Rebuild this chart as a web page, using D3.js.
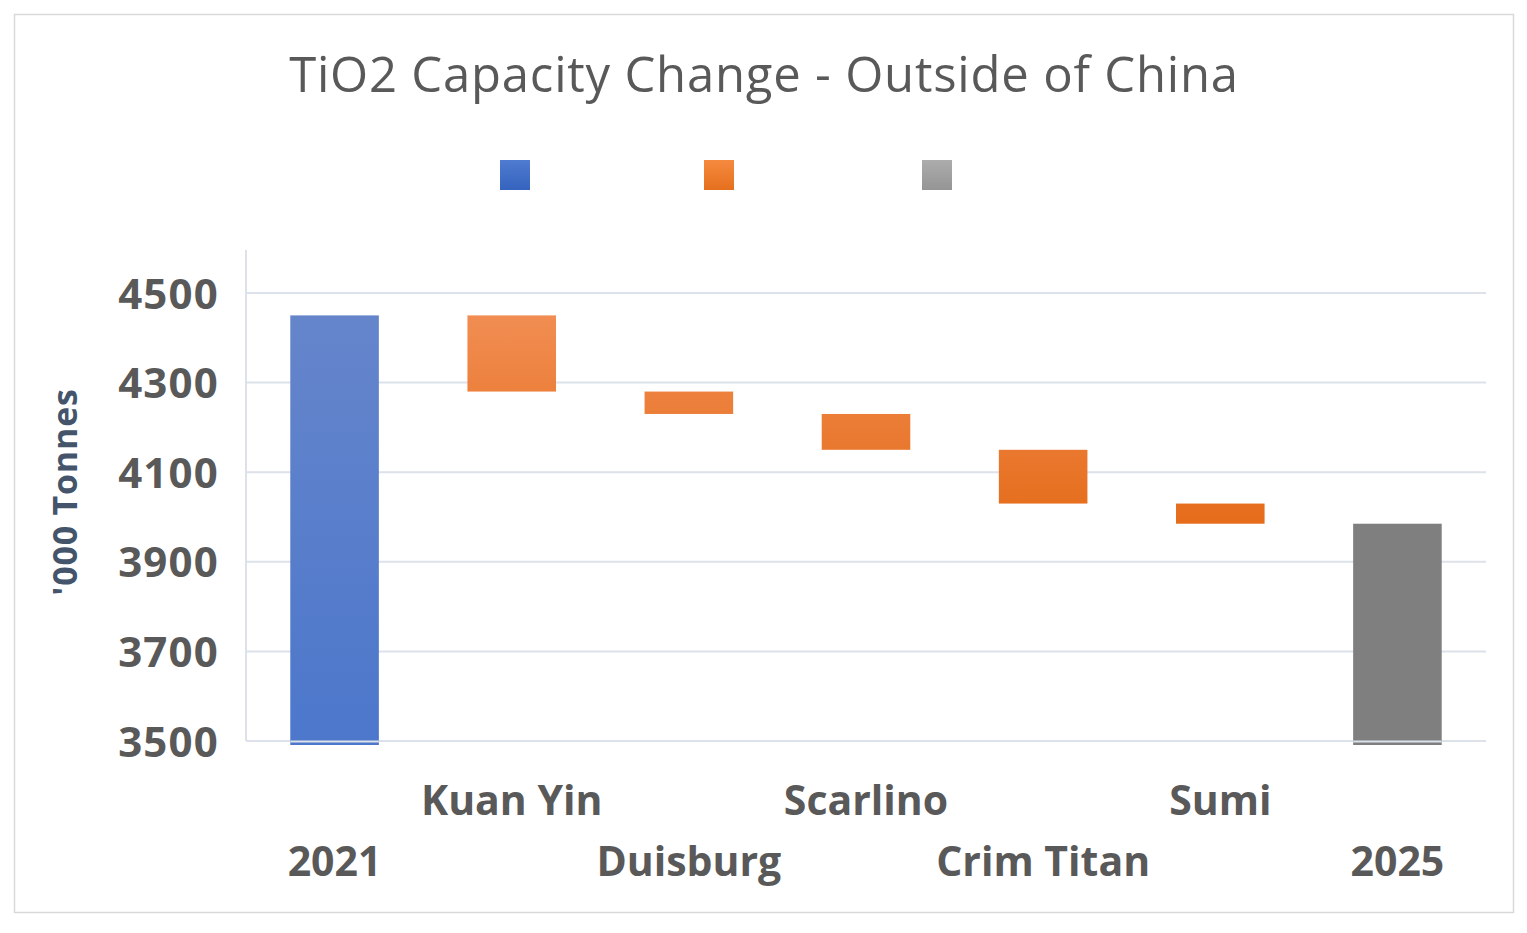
<!DOCTYPE html>
<html><head><meta charset="utf-8">
<script src="https://cdn.jsdelivr.net/npm/d3@7"></script>
<style>body{margin:0;background:#fff}svg{display:block}</style>
</head><body>
<svg id="c" width="1527" height="933"></svg>
<script>
const categories = ["2021","Kuan Yin","Duisburg","Scarlino","Crim Titan","Sumi","2025"];
const starts = [3500,4450,4280,4230,4150,4030,3500];
const ends   = [4450,4280,4230,4150,4030,3985,3985];
const kinds  = ["total","change","change","change","change","change","end"];
const yTicks = [3500,3700,3900,4100,4300,4500];
const legendKinds = ["total","change","end"];

const svg = d3.select("#c");
const defs = svg.append("defs");
function grad(id, c1, c2, y1, y2){
  const g = defs.append("linearGradient").attr("id",id).attr("gradientUnits","userSpaceOnUse")
    .attr("x1",0).attr("x2",0).attr("y1",y1).attr("y2",y2);
  g.append("stop").attr("offset","0%").attr("stop-color",c1);
  g.append("stop").attr("offset","100%").attr("stop-color",c2);
}
grad("gBlue","#6585CB","#4C77CB",316,745);
grad("gOrange","#F18D52","#E56C1A",316,525);
grad("gLegB","#4F7BD0","#3563BE",160,190);
grad("gLegO","#F58A3F","#E5701E",160,190);
grad("gLegG","#ACACAC","#959595",160,190);

svg.append("rect").attr("x",14.5).attr("y",14.5).attr("width",1499).attr("height",898)
  .attr("fill","#fff").attr("stroke","#D9D9D9").attr("stroke-width",1.5);

const x = d3.scaleBand().domain(categories).range([246,1486]).paddingInner(0.5).paddingOuter(0.25);
const y = d3.scaleLinear().domain([3500,4500]).range([741,293]);

svg.append("g").selectAll("line").data(yTicks).join("line")
  .attr("x1",246).attr("x2",1486).attr("y1",d=>y(d)).attr("y2",d=>y(d))
  .attr("stroke","#DCE1EA").attr("stroke-width",2);
svg.append("line").attr("x1",246).attr("x2",246).attr("y1",250).attr("y2",741)
  .attr("stroke","#DCE1EA").attr("stroke-width",2);

const fills = {total:"url(#gBlue)", change:"url(#gOrange)", end:"#7F7F7F"};
const data = categories.map((c,i)=>({c, s:starts[i], e:ends[i], k:kinds[i]}));
svg.append("g").selectAll("rect").data(data).join("rect")
  .attr("x",d=>x(d.c)).attr("width",x.bandwidth())
  .attr("y",d=>y(Math.max(d.s,d.e)))
  .attr("height",d=>y(Math.min(d.s,d.e))-y(Math.max(d.s,d.e)) + (d.k==="change"?0:4))
  .attr("fill",d=>fills[d.k]);
svg.append("g").selectAll("line").data(data.filter(d=>d.k!=="change")).join("line")
  .attr("x1",d=>x(d.c)).attr("x2",d=>x(d.c)+x.bandwidth())
  .attr("y1",y(3500)+0.5).attr("y2",y(3500)+0.5).attr("stroke","#DCE1EA").attr("stroke-width",2);

const yAxis = d3.axisLeft(y).tickValues(yTicks).tickFormat(d3.format("d")).tickSize(0).tickPadding(0);
const ga = svg.append("g").attr("transform","translate(219,0)").call(yAxis);
ga.select(".domain").remove();
ga.selectAll("text").attr("font-family","Open Sans").attr("font-weight","bold")
  .attr("font-size",42).attr("fill","#595959").attr("dy","0.36em").attr("letter-spacing",1.2);

svg.append("g").selectAll("text").data(categories).join("text")
  .attr("x",d=>x(d)+x.bandwidth()/2).attr("y",(d,i)=> i%2===1 ? 815 : 876)
  .attr("text-anchor","middle").attr("font-family","Open Sans").attr("font-weight","bold")
  .attr("font-size",41).attr("fill","#595959").attr("letter-spacing",0).text(d=>d);

svg.append("text").attr("transform","translate(77,492) rotate(-90)")
  .attr("text-anchor","middle").attr("font-family","Open Sans").attr("font-weight","bold")
  .attr("font-size",34).attr("fill","#44546A").attr("letter-spacing",0.8).text("'000 Tonnes");

svg.append("text").attr("x",764).attr("y",92).attr("text-anchor","middle")
  .attr("font-family","Open Sans").attr("font-size",49).attr("fill","#595959")
  .attr("letter-spacing",0.8).text("TiO2 Capacity Change - Outside of China");

const legX = [500,704,922];
const legF = {total:"url(#gLegB)", change:"url(#gLegO)", end:"url(#gLegG)"};
svg.append("g").selectAll("rect").data(legendKinds).join("rect")
  .attr("x",(d,i)=>legX[i]).attr("y",160).attr("width",30).attr("height",30)
  .attr("fill",d=>legF[d]);
</script>
</body></html>
